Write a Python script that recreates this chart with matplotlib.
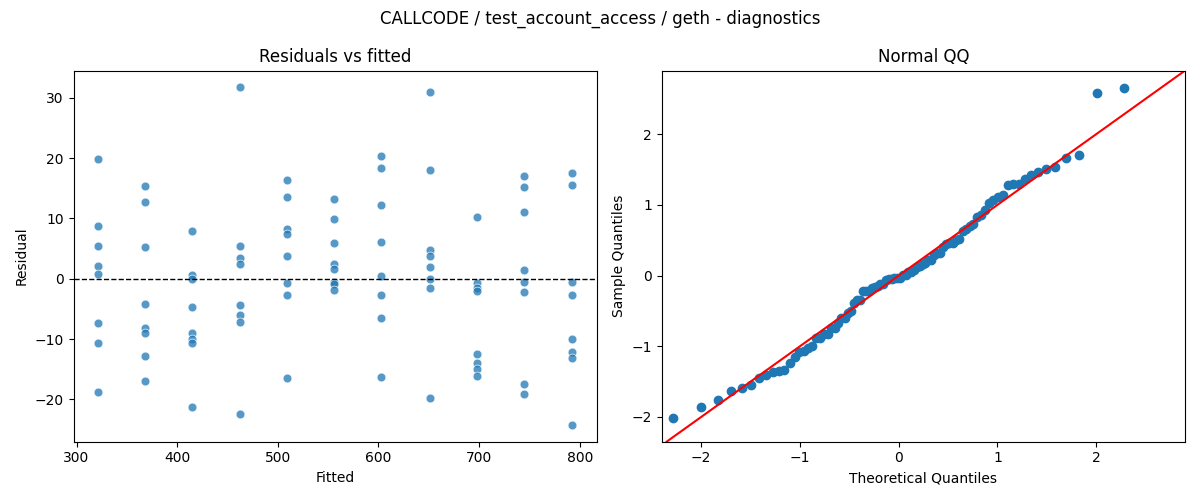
from statistics import NormalDist
import numpy as np
import matplotlib
matplotlib.use("Agg")
import matplotlib.pyplot as plt

# fitted groups and their residuals
fitted_levels = [321, 368, 415, 462, 509, 556, 603, 651, 698, 745, 792]
residual_groups = [
    [19.8, 8.7, 5.4, 2.1, 0.8, -7.3, -10.6, -18.7],
    [15.4, 12.7, 5.3, -4.2, -8.1, -9.0, -12.8, -16.9],
    [7.9, 0.6, -0.05, -4.7, -9.0, -9.9, -10.6, -21.2],
    [31.7, 5.4, 3.4, 2.5, -4.3, -6.0, -7.2, -22.4],
    [16.3, 13.5, 8.3, 7.4, 3.8, -0.7, -2.7, -16.4],
    [13.2, 9.9, 5.9, 2.5, 1.6, -0.5, -0.8, -1.9],
    [20.4, 18.3, 12.2, 6.1, 0.5, -2.7, -6.5, -16.2],
    [30.9, 18.0, 4.7, 3.7, 1.9, -0.05, -1.5, -19.7],
    [10.2, -0.7, -1.5, -2.0, -12.4, -13.9, -14.9, -16.1],
    [17.0, 15.2, 11.0, 1.4, -0.5, -2.2, -17.4, -19.1],
    [17.5, 15.5, -0.5, -2.7, -10.0, -12.1, -13.1, -24.2],
]

fitted = np.concatenate([[f] * len(r) for f, r in zip(fitted_levels, residual_groups)])
resid = np.concatenate(residual_groups)

fig, (ax1, ax2) = plt.subplots(1, 2, figsize=(12, 5))
fig.suptitle("CALLCODE / test_account_access / geth - diagnostics")

ax1.scatter(fitted, resid, s=40, alpha=0.75, edgecolors="white", linewidths=0.6, color="C0")
ax1.axhline(0, color="black", linestyle="--", linewidth=1)
ax1.set_xlabel("Fitted")
ax1.set_ylabel("Residual")
ax1.set_title("Residuals vs fitted")
ax1.set_xlim(297, 817)
ax1.set_ylim(-27, 34.5)

# normal QQ of standardized residuals
z = np.sort((resid - resid.mean()) / resid.std(ddof=1))
n = len(z)
theo = np.array([NormalDist().inv_cdf(i / (n + 1)) for i in range(1, n + 1)])
ax2.plot(theo, z, "o", color="C0", markersize=6)
ax2.set_xlim(-2.4, 2.9)
ax2.set_ylim(-2.35, 2.9)
ax2.axline((0, 0), slope=1, color="red")
ax2.set_xlabel("Theoretical Quantiles")
ax2.set_ylabel("Sample Quantiles")
ax2.set_title("Normal QQ")

fig.tight_layout()
fig.savefig("out.png", dpi=100)
